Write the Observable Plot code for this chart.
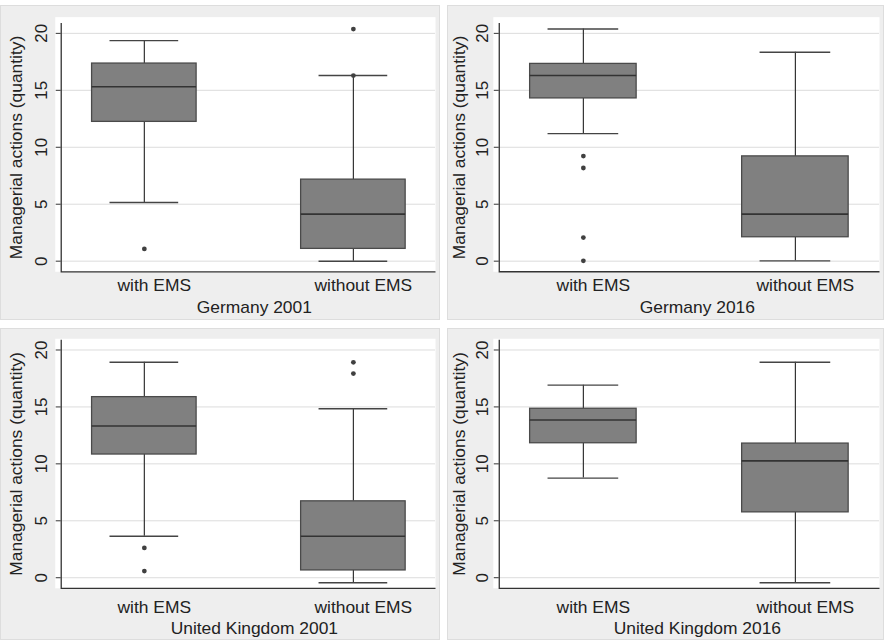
<!DOCTYPE html>
<html>
<head>
<meta charset="utf-8">
<script src="https://cdn.jsdelivr.net/npm/d3@7"></script>
<script src="https://cdn.jsdelivr.net/npm/@observablehq/plot@0.6"></script>
<style>
  html, body { margin: 0; padding: 0; background: #ffffff; }
  #root { position: relative; width: 884px; height: 640px; background: #ffffff; overflow: hidden; }
  .panel { position: absolute; background: #eeeeee; box-sizing: border-box; border: 1px solid #dddddd; }
  .panel svg { display: block; position: absolute; left: -1px; top: -1px; }
</style>
</head>
<body>
<div id="root"></div>
<script>
// ---- data ----
const groups = ["with EMS", "without EMS"];
const panelTitles = ["Germany 2001", "Germany 2016", "United Kingdom 2001", "United Kingdom 2016"];
const yTicks = [0, 5, 10, 15, 20];
const yLabel = "Managerial actions (quantity)";
// per panel: [with EMS, without EMS]
const whiskerLow  = [[5.15, 0.0], [11.2, 0.03], [3.64, -0.44], [8.75, -0.44]];
const q1          = [[12.23, 1.08], [14.29, 2.1], [10.82, 0.64], [11.81, 5.74]];
const median      = [[15.31, 4.13], [16.3, 4.13], [13.32, 3.64], [13.85, 10.26]];
const q3          = [[17.35, 7.16], [17.32, 9.2], [15.86, 6.71], [14.84, 11.78]];
const whiskerHigh = [[19.36, 16.3], [20.38, 18.34], [18.92, 14.84], [16.91, 18.92]];
const outliers    = [
  [[1.08], [16.3, 20.38]],
  [[9.23, 8.18, 2.07, 0.03], []],
  [[2.62, 0.58], [18.92, 17.93]],
  [[], []]
];

// ---- layout (styles / sizes) ----
const layout = [
  {left: 0,   top: 5,   width: 440, height: 315, ml: 61, mr: 3, mt: 17.7, mb: 47.5, whiteTop: 6, tickPad: 9, yTitleDx: -45, catDy: 14, titleDy: 36, catDx: 10, titleDx: 6},
  {left: 447, top: 5,   width: 437, height: 315, ml: 52, mr: 3, mt: 17.7, mb: 47.5, whiteTop: 6, tickPad: 6, yTitleDx: -40, catDy: 14, titleDy: 36, catDx: 10, titleDx: 8},
  {left: 0,   top: 328, width: 440, height: 312, ml: 61, mr: 3, mt: 11.3, mb: 51,   whiteTop: 1, tickPad: 9, yTitleDx: -45, catDy: 19, titleDy: 40, catDx: 10, titleDx: 6},
  {left: 447, top: 328, width: 437, height: 312, ml: 52, mr: 3, mt: 11.3, mb: 51,   whiteTop: 1, tickPad: 6, yTitleDx: -40, catDy: 19, titleDy: 40, catDx: 10, titleDx: 8}
];

const root = document.getElementById("root");
const font = "'Liberation Sans', Arial, Helvetica, sans-serif";

panelTitles.forEach((title, p) => {
  const L = layout[p];
  const stats = groups.map((g, i) => ({
    group: g,
    lo: whiskerLow[p][i], q1: q1[p][i], med: median[p][i], q3: q3[p][i], hi: whiskerHigh[p][i]
  }));
  const pts = groups.flatMap((g, i) => outliers[p][i].map(v => ({group: g, value: v})));
  const w = L.width - L.ml - L.mr;
  const h = L.height - L.mt - L.mb;

  const chart = Plot.plot({
    width: L.width,
    height: L.height,
    marginLeft: L.ml, marginRight: L.mr, marginTop: L.mt, marginBottom: L.mb,
    style: {background: "transparent", fontFamily: font, fontSize: "17.5px", color: "#222"},
    x: {domain: groups, paddingInner: 0.5, paddingOuter: 0.145, axis: null},
    y: {domain: [-0.93, 20.9], axis: null},
    marks: [
      Plot.frame({fill: "#ffffff", stroke: null, insetLeft: -6, insetTop: -L.whiteTop}),
      Plot.ruleY(yTicks, {stroke: "#dcdcdc", strokeWidth: 1}),
      Plot.ruleX(stats, {x: "group", y1: "lo", y2: "q1", stroke: "#333", strokeWidth: 1.2}),
      Plot.ruleX(stats, {x: "group", y1: "q3", y2: "hi", stroke: "#333", strokeWidth: 1.2}),
      Plot.tickY(stats, {x: "group", y: "lo", stroke: "#444", strokeWidth: 1.4, insetLeft: 18, insetRight: 18}),
      Plot.tickY(stats, {x: "group", y: "hi", stroke: "#444", strokeWidth: 1.4, insetLeft: 18, insetRight: 18}),
      Plot.barY(stats, {x: "group", y1: "q1", y2: "q3", fill: "#808080", stroke: "#4a4a4a", strokeWidth: 1.3}),
      Plot.tickY(stats, {x: "group", y: "med", stroke: "#333", strokeWidth: 1.6}),
      Plot.dot(pts, {x: "group", y: "value", r: 2.4, fill: "#404040", stroke: null}),
      Plot.frame({fill: "none", stroke: "#333", strokeWidth: 1.3, strokeDasharray: `0,${w + h},${w + h}`}),
      Plot.axisY({ticks: yTicks, tickSize: 5, tickRotate: -90, tickPadding: L.tickPad, fontSize: 17, stroke: "#333", fill: "#222", label: null}),
      Plot.text([yLabel], {text: d => d, frameAnchor: "left", textAnchor: "middle", lineAnchor: "middle", rotate: -90, dx: L.yTitleDx, fill: "#222", fontSize: 17.5}),
      Plot.text(groups, {x: d => d, text: d => d, frameAnchor: "bottom", dy: L.catDy, dx: L.catDx, lineAnchor: "middle", fill: "#222", fontSize: 17.5}),
      Plot.text([title], {text: d => d, frameAnchor: "bottom", dy: L.titleDy, dx: L.titleDx, lineAnchor: "middle", fill: "#222", fontSize: 17.5})
    ]
  });

  const div = document.createElement("div");
  div.className = "panel";
  div.style.left = L.left + "px";
  div.style.top = L.top + "px";
  div.style.width = L.width + "px";
  div.style.height = L.height + "px";
  div.appendChild(chart);
  root.appendChild(div);
});
</script>
</body>
</html>
